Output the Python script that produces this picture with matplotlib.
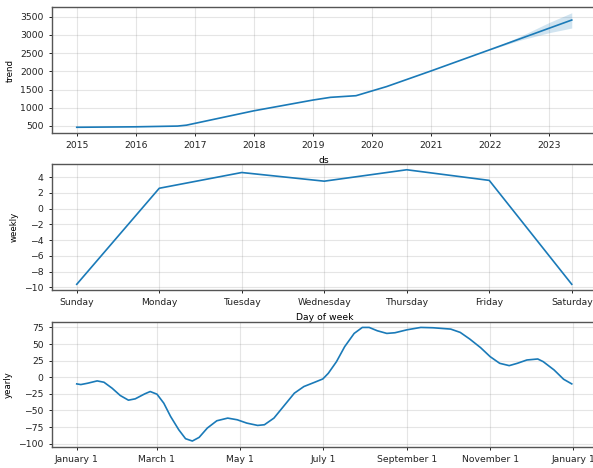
import pandas as pd
import matplotlib
matplotlib.use('Agg')
import matplotlib.pyplot as plt
import matplotlib.dates as mdates
from matplotlib.ticker import FuncFormatter, MultipleLocator

# trend (piecewise linear knots)
trend_dates = ['2015-01-01', '2016-01-01', '2016-09-15', '2016-11-10', '2018-01-01',
               '2019-01-01', '2019-04-20', '2019-09-25', '2020-01-01', '2020-04-01',
               '2021-01-01', '2022-01-01', '2023-05-22']
trend_values = [462, 475, 495, 520, 915, 1210, 1285, 1330, 1460, 1580, 2010, 2595, 3410]

# uncertainty band on the trend
band_dates = ['2022-01-01', '2022-07-01', '2023-01-01', '2023-05-22']
band_lower = [2590, 2850, 3060, 3190]
band_upper = [2600, 2950, 3340, 3610]

# weekly component
days_of_week = ['Sunday', 'Monday', 'Tuesday', 'Wednesday', 'Thursday', 'Friday', 'Saturday']
weekly_values = [-9.6, 2.6, 4.6, 3.5, 4.95, 3.6, -9.6]

# yearly component (day of year -> value)
yearly_days = [0, 3, 8, 15, 20, 26, 32, 38, 43, 50, 54, 59, 64, 69, 75, 80, 85, 90, 96,
               103, 111, 118, 125, 133, 138, 145, 152, 160, 167, 175, 181, 185, 191, 197,
               204, 210, 215, 221, 228, 234, 243, 253, 262, 275, 282, 289, 297, 304, 311,
               318, 324, 331, 339, 343, 351, 358, 364]
yearly_values = [-10, -11, -9, -5.5, -7.5, -16.5, -27.5, -34.5, -32.5, -25, -21.5, -25.5,
                 -39, -59, -79, -92.5, -96, -90.5, -76.5, -65.5, -61.5, -64, -69, -72.5,
                 -71.5, -61.5, -44, -24, -14, -7.5, -2.5, 6, 23.5, 46, 66, 75, 75, 70, 66,
                 67, 71.5, 75, 74.5, 72.5, 67.5, 57.5, 44.5, 31, 21, 17.5, 21, 26, 27.5,
                 23.5, 11, -3, -10]

color = '#1a7ab8'
fs = 6.7
plt.rcParams['font.family'] = 'DejaVu Sans'
plt.rcParams['font.size'] = fs

fig = plt.figure(figsize=(5.93, 4.68), dpi=100)

left = 52 / 593
width = 544.5 / 593
ax1 = fig.add_axes([left, 0.7158, width, 0.2692])
ax2 = fig.add_axes([left, 0.3803, width, 0.2692])
ax3 = fig.add_axes([left, 0.0455, width, 0.2670])


def style(ax):
    ax.grid(True, which='major', c='gray', ls='-', lw=0.8, alpha=0.2)
    for s in ax.spines.values():
        s.set_color('#555555')
        s.set_linewidth(1.0)
    ax.tick_params(labelsize=fs, length=2.5, width=0.7, colors='#222222')
    ax.set_axisbelow(True)


# trend
td = pd.to_datetime(trend_dates)
bd = pd.to_datetime(band_dates)
ax1.plot(td, trend_values, ls='-', c=color, lw=1.2)
ax1.fill_between(bd, band_lower, band_upper, color=color, alpha=0.2, lw=0)
ax1.xaxis.set_major_locator(mdates.YearLocator())
ax1.xaxis.set_major_formatter(mdates.DateFormatter('%Y'))
ax1.yaxis.set_major_locator(MultipleLocator(500))
ax1.set_xlabel('ds', fontsize=fs)
ax1.set_ylabel('trend', fontsize=fs - 0.5)
style(ax1)

# weekly
ax2.plot(range(len(days_of_week)), weekly_values, ls='-', c=color, lw=1.2)
ax2.set_xticks(range(len(days_of_week)))
ax2.set_xticklabels(days_of_week)
ax2.yaxis.set_major_locator(MultipleLocator(2))
ax2.set_xlabel('Day of week', fontsize=fs)
ax2.set_ylabel('weekly', fontsize=fs - 0.5)
style(ax2)

# yearly
yd = pd.Timestamp('2017-01-01') + pd.to_timedelta(yearly_days, unit='D')
ax3.plot(yd, yearly_values, ls='-', c=color, lw=1.2)
ax3.xaxis.set_major_locator(mdates.MonthLocator(bymonth=[1, 3, 5, 7, 9, 11], bymonthday=1))
ax3.xaxis.set_major_formatter(FuncFormatter(
    lambda x, pos=None: '{dt:%B} {dt.day}'.format(dt=mdates.num2date(x))))
ax3.yaxis.set_major_locator(MultipleLocator(25))
ax3.set_xlabel('Day of year', fontsize=fs)
ax3.set_ylabel('yearly', fontsize=fs - 0.5)
style(ax3)

fig.savefig('out.png', dpi=100)
